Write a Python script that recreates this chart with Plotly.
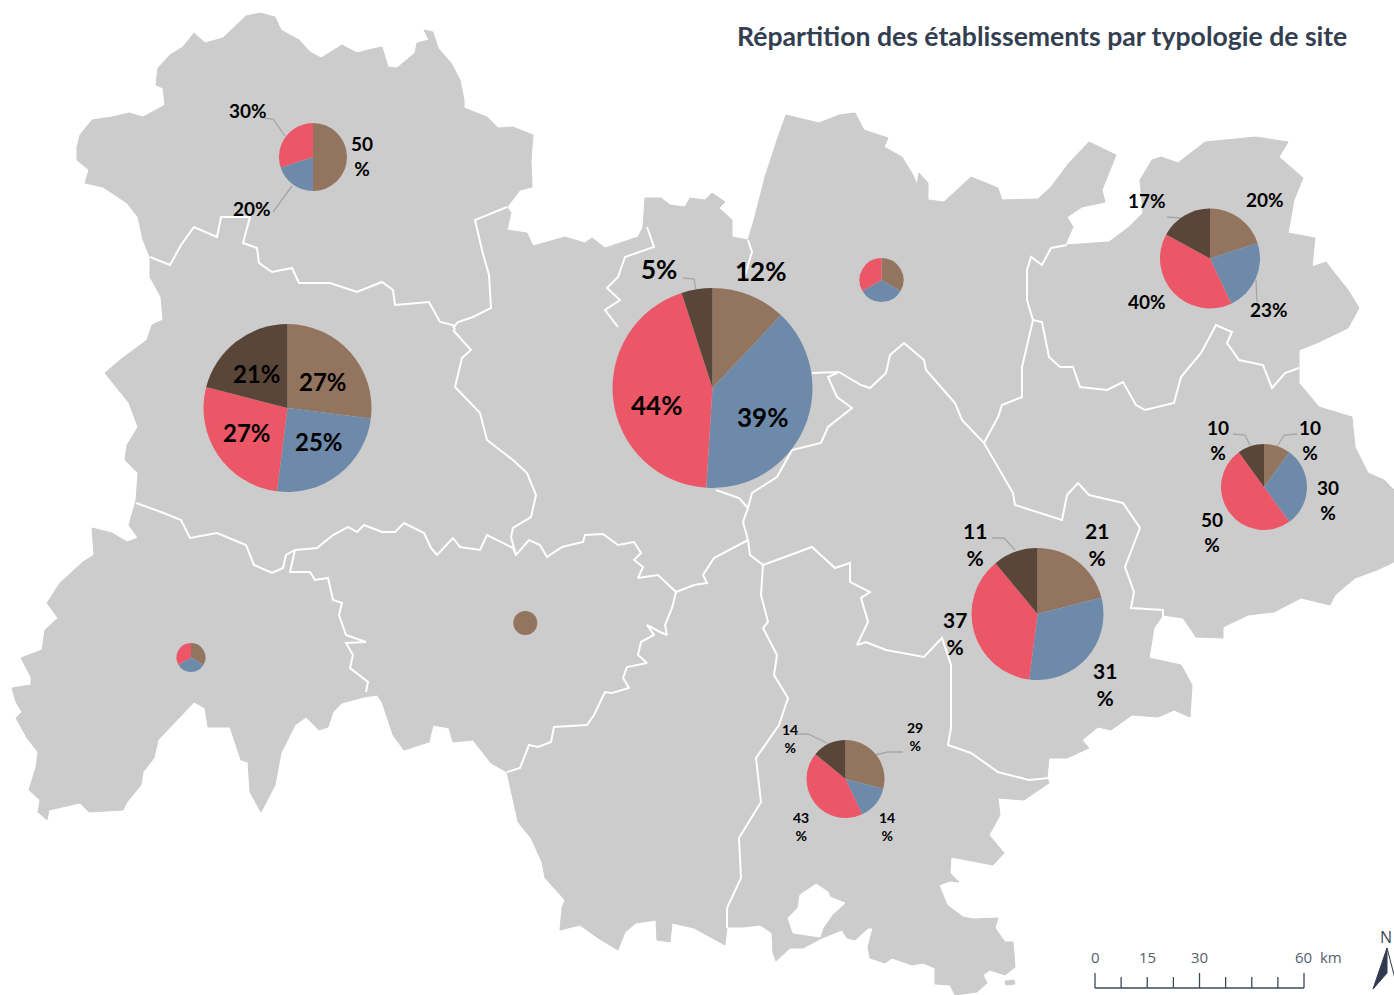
import plotly.graph_objects as go

W, H = 1394, 995

TITLE = "Répartition des établissements par typologie de site"
CATEGORIES = ["Type A", "Type B", "Type C", "Type D"]
COLORS = ["#93745E", "#6E8AAA", "#EC5768", "#5A4539"]
LAND = "#CCCCCC"

OUTLINE = [(77,147),(80,135),(92,120),(112,117),(129,113),(143,117),(165,105),(163,88),(156,85),(158,68),(170,55),(183,47),(194,33),(205,43),(223,38),(234,27),(246,16),(260,13),(275,17),(281,30),(299,40),(310,52),(321,58),(342,45),(357,53),(368,50),(382,47),(388,67),(397,68),(415,53),(417,43),(429,40),(424,30),(433,32),(438,48),(451,63),(460,80),(464,100),(464,108),(487,117),(498,128),(513,127),(533,135),(531,160),(532,187),(520,190),(507,207),(511,213),(507,230),(527,233),(533,246),(565,237),(585,243),(592,238),(605,248),(638,237),(643,227),(645,198),(661,198),(670,205),(685,207),(690,198),(705,200),(712,193),(725,202),(719,208),(732,220),(732,237),(748,240),(754,220),(765,177),(777,140),(786,115),(819,123),(839,115),(855,113),(864,130),(888,138),(884,147),(902,157),(913,175),(917,185),(919,173),(928,183),(928,200),(944,202),(971,177),(998,188),(1002,200),(1038,199),(1051,187),(1069,163),(1089,142),(1116,155),(1102,190),(1105,202),(1082,207),(1067,217),(1073,227),(1065,245),(1109,242),(1129,227),(1143,213),(1140,180),(1152,160),(1161,157),(1178,163),(1205,142),(1256,137),(1288,142),(1279,157),(1303,178),(1294,200),(1288,233),(1315,238),(1312,267),(1326,262),(1348,290),(1359,308),(1348,328),(1319,342),(1299,350),(1299,383),(1319,407),(1352,417),(1355,447),(1368,473),(1384,480),(1394,490),(1394,562),(1377,570),(1355,578),(1335,595),(1330,605),(1301,598),(1274,612),(1248,615),(1223,627),(1223,638),(1196,637),(1183,618),(1163,615),(1154,628),(1149,658),(1181,665),(1192,685),(1190,717),(1174,710),(1158,717),(1132,715),(1111,730),(1098,727),(1082,740),(1089,748),(1067,758),(1049,758),(1047,778),(1049,783),(1024,800),(998,798),(1000,815),(989,835),(1004,853),(993,865),(951,857),(950,873),(959,882),(950,881),(939,885),(947,905),(963,917),(973,919),(998,918),(995,928),(1005,942),(1013,942),(1015,967),(1005,975),(990,970),(983,975),(987,983),(977,992),(955,995),(950,985),(935,984),(935,968),(923,963),(912,965),(892,958),(885,963),(870,958),(868,947),(873,928),(868,928),(855,940),(847,938),(842,930),(822,938),(803,948),(790,948),(776,961),(773,953),(772,933),(760,925),(743,927),(727,927),(725,945),(694,928),(672,923),(670,942),(657,940),(656,920),(636,923),(625,932),(618,950),(598,938),(580,925),(560,930),(562,908),(565,900),(545,878),(542,862),(531,838),(518,822),(509,782),(507,772),(491,763),(473,740),(453,742),(449,728),(433,725),(429,742),(404,750),(393,735),(382,702),(377,695),(364,697),(342,703),(333,712),(328,727),(319,730),(306,717),(295,725),(281,753),(275,785),(261,812),(250,792),(248,762),(241,760),(230,727),(208,727),(205,708),(194,702),(172,725),(158,740),(154,758),(143,772),(141,785),(127,802),(123,810),(89,812),(80,803),(49,810),(47,820),(38,812),(40,800),(29,790),(36,767),(38,752),(27,738),(16,718),(22,712),(16,702),(12,688),(31,685),(31,677),(21,658),(42,650),(45,630),(58,618),(47,603),(60,583),(83,562),(94,555),(92,528),(112,533),(127,542),(138,538),(129,525),(136,500),(138,473),(125,460),(127,445),(138,427),(129,403),(105,373),(120,360),(147,340),(152,325),(163,320),(161,297),(150,277),(150,257),(143,240),(138,217),(127,203),(103,187),(85,183),(89,170),(77,160)]
HOLE = [(816,884),(800,895),(798,908),(788,918),(793,933),(820,937),(823,928),(832,915),(845,903),(830,897),(828,892)]
ISLET = [(1005,981),(1014,980),(1015,984),(1006,985)]

BOUNDARIES = [
 [(150,257),(170,265),(181,245),(194,227),(217,237),(221,217),(250,217),(243,243),(257,248),(259,263),(272,272),(292,268),(299,283),(330,283),(357,292),(382,282),(393,290),(395,305),(429,302),(440,322),(453,325),(455,330)],
 [(507,207),(475,220),(482,250),(489,275),(491,308),(473,317),(458,322),(453,328)],
 [(453,330),(471,350),(462,358),(455,387),(480,413),(487,440),(513,460),(527,473),(536,495),(531,517),(513,528),(511,537),(516,555)],
 [(136,503),(161,512),(181,520),(190,538),(217,533),(246,545),(254,565),(272,573),(283,568),(286,555),(295,550),(317,548),(333,535),(348,527),(357,532),(364,525),(382,532),(395,532),(404,523),(424,533),(431,548),(437,555),(453,538),(460,547),(480,550),(487,535),(513,548),(516,555),(529,540),(540,545),(547,557),(562,547),(583,542),(585,535),(603,534),(618,545),(634,542),(641,553),(634,560),(643,567),(638,578),(658,575),(676,592),(694,585),(707,583),(703,575),(714,558),(748,540)],
 [(676,592),(672,608),(665,625),(667,635),(660,632),(647,625),(654,635),(641,642),(638,655),(647,663),(627,667),(623,678),(629,688),(612,693),(605,692),(594,715),(587,725),(554,727),(551,742),(538,747),(529,745),(520,768),(507,772)],
 [(295,550),(290,572),(310,572),(315,580),(328,578),(333,600),(342,603),(339,615),(346,635),(366,642),(346,643),(353,655),(350,668),(368,682),(366,692)],
 [(748,540),(750,555),(763,565),(761,595),(768,622),(763,628),(777,655),(774,675),(788,698),(779,725),(756,758),(761,802),(739,838),(741,878),(727,908),(727,928)],
 [(748,540),(743,522),(748,508),(752,493),(777,477)],
 [(716,490),(739,498),(748,508)],
 [(777,477),(792,450),(821,443),(828,427),(852,408),(837,397),(828,377),(839,372),(812,373)],
 [(839,372),(861,385),(870,388),(886,373),(890,355),(904,343),(924,360),(926,370),(955,403),(962,420),(984,443),(998,467),(1013,493),(1015,505),(1056,518),(1062,520),(1067,495),(1078,483),(1089,495),(1123,503),(1140,528),(1125,567),(1134,592),(1131,608),(1163,610),(1163,617)],
 [(984,443),(998,417),(1002,405),(1022,397),(1022,367),(1033,320),(1027,300),(1027,270),(1031,257),(1042,265),(1051,248),(1067,245)],
 [(1033,320),(1042,322),(1049,357),(1060,367),(1073,367),(1080,387),(1107,390),(1123,382),(1136,405),(1145,410),(1174,403),(1181,377),(1201,353),(1216,325),(1232,332),(1227,343),(1239,360),(1263,365),(1272,388),(1285,373),(1299,368)],
 [(763,565),(812,547),(835,568),(850,563),(850,582),(870,592),(861,598),(868,622),(857,645),(866,642),(886,650),(924,657),(942,638),(951,665),(951,728),(948,745),(971,753),(998,772),(1029,780),(1049,778)],
 [(647,227),(654,247),(625,257),(618,277),(607,288),(620,300),(605,310),(618,327)],
 [(748,240),(752,252),(745,275)],
]

# (centre x, centre y, radius, values)
PIES = [
 (313,157,34,[50,20,30,0]),
 (287.5,408,84,[27,25,27,21]),
 (712.5,388,100,[12,39,44,5]),
 (881.5,280,22,[33,33,33,0]),
 (1210,258.5,50,[20,23,40,17]),
 (1264,487,43,[10,30,50,10]),
 (1037.5,614,66,[21,31,37,11]),
 (845.5,779,39,[29,14,43,14]),
 (191,657.5,14.5,[33,33,33,0]),
 (525.3,623,12,[100,0,0,0]),
]

# (text, x, y, font size)
LABELS = [
 ("30%",248,110,19),("50<br>%",362,156,19),("20%",252,208,19),
 ("21%",257,373,24),("27%",323,381,24),("27%",247,432,24),("25%",319,441,24),
 ("5%",659,269,26),("12%",760,271,26),("44%",656,405,26),("39%",762,417,26),
 ("17%",1147,200,19),("20%",1265,199,19),("40%",1147,301,19),("23%",1269,309,19),
 ("10<br>%",1218,440,19),("10<br>%",1310,440,19),("30<br>%",1328,500,19),("50<br>%",1212,532,19),
 ("11<br>%",975,544,21),("21<br>%",1097,544,21),("37<br>%",955,633,21),("31<br>%",1105,684,21),
 ("14<br>%",790,738,14),("29<br>%",915,736,14),("43<br>%",801,826,14),("14<br>%",887,826,14),
]

LEADERS = [
 [(263,118),(273,119),(285,136)],[(273,212),(292,186)],
 [(683,278),(694,279),(696,290)],
 [(1167,217),(1181,218)],[(1256,280),(1257,302)],
 [(1233,434),(1245,435),(1250,445)],[(1297,434),(1284,435),(1277,447)],
 [(992,538),(1004,538),(1015,550)],
 [(797,734),(808,734),(827,743)],[(903,752),(888,752),(875,755)],
]

SCALE_KM = [0,7.5,15,22.5,30,37.5,45,52.5,60]
SCALE_LABELS = [(0,"0"),(15,"15"),(30,"30"),(60,"60\u00a0\u00a0km")]

fig = go.Figure()

def xy(points):
    return [p[0] for p in points], [p[1] for p in points]

x, y = xy(OUTLINE + OUTLINE[:1])
fig.add_trace(go.Scatter(x=x, y=y, mode="lines", fill="toself", fillcolor=LAND, line=dict(color=LAND, width=1), hoverinfo="skip"))
x, y = xy(ISLET + ISLET[:1])
fig.add_trace(go.Scatter(x=x, y=y, mode="lines", fill="toself", fillcolor=LAND, line=dict(color=LAND, width=1), hoverinfo="skip"))
x, y = xy(HOLE + HOLE[:1])
fig.add_trace(go.Scatter(x=x, y=y, mode="lines", fill="toself", fillcolor="white", line=dict(color="white", width=1), hoverinfo="skip"))
for b in BOUNDARIES:
    x, y = xy(b)
    fig.add_trace(go.Scatter(x=x, y=y, mode="lines", line=dict(color="white", width=2), hoverinfo="skip"))
for l in LEADERS:
    x, y = xy(l)
    fig.add_trace(go.Scatter(x=x, y=y, mode="lines", line=dict(color="#A6A6A6", width=1.3), hoverinfo="skip"))

for cx, cy, r, vals in PIES:
    fig.add_trace(go.Pie(
        labels=CATEGORIES, values=vals, sort=False, direction="clockwise", rotation=0,
        marker=dict(colors=COLORS, line=dict(width=0)), textinfo="none", hoverinfo="skip",
        domain=dict(x=[(cx-r)/W, (cx+r)/W], y=[1-(cy+r)/H, 1-(cy-r)/H]),
    ))

# scale bar
BAR_X0, BAR_PX_PER_KM, BAR_Y = 1095, 209/60, 988
DARK = "#3C4858"
sx = [BAR_X0 + k*BAR_PX_PER_KM for k in SCALE_KM]
fig.add_trace(go.Scatter(x=[sx[0], sx[-1]], y=[BAR_Y, BAR_Y], mode="lines", line=dict(color=DARK, width=1.5), hoverinfo="skip"))
for k, px in zip(SCALE_KM, sx):
    top = 973 if k in (0, 30, 60) else 977
    fig.add_trace(go.Scatter(x=[px, px], y=[top, BAR_Y], mode="lines", line=dict(color=DARK, width=1.3), hoverinfo="skip"))

# north arrow
fig.add_trace(go.Scatter(x=[1387,1373,1387,1387], y=[948,989,973,948], mode="lines", fill="toself", fillcolor="#2F3A4E", line=dict(color="#2F3A4E", width=1), hoverinfo="skip"))
fig.add_trace(go.Scatter(x=[1387,1398], y=[948,990], mode="lines", line=dict(color="#2F3A4E", width=1), hoverinfo="skip"))

ann = []
for t, ax, ay, s in LABELS:
    ann.append(dict(x=ax, y=ay, text=t, showarrow=False, xanchor="center", yanchor="middle",
                    font=dict(family="Lato", size=s, color="black", weight="bold")))
for k, t in SCALE_LABELS:
    is_last = t.endswith("km")
    ann.append(dict(x=BAR_X0 + k*BAR_PX_PER_KM, y=957, text=t, showarrow=False, xanchor="left" if is_last else "center", xshift=-11 if is_last else 0, yanchor="middle",
                    font=dict(family="Open Sans", size=15, color="#55606E")))
ann.append(dict(x=1386, y=937, text="N", showarrow=False, font=dict(family="Open Sans", size=16, color="#3C4858")))
ann.append(dict(x=1349, y=36, text=TITLE, showarrow=False, xanchor="right", yanchor="middle",
                font=dict(family="Lato", size=26.6, color="#333F50", weight="bold")))

fig.update_layout(
    width=W, height=H, margin=dict(l=0, r=0, t=0, b=0), showlegend=False,
    paper_bgcolor="white", plot_bgcolor="white", annotations=ann,
    xaxis=dict(range=[0, W], visible=False, fixedrange=True),
    yaxis=dict(range=[H, 0], visible=False, fixedrange=True),
)
fig.write_html("out.html", post_script="document.body.style.margin='0';", config=dict(displayModeBar=False))
